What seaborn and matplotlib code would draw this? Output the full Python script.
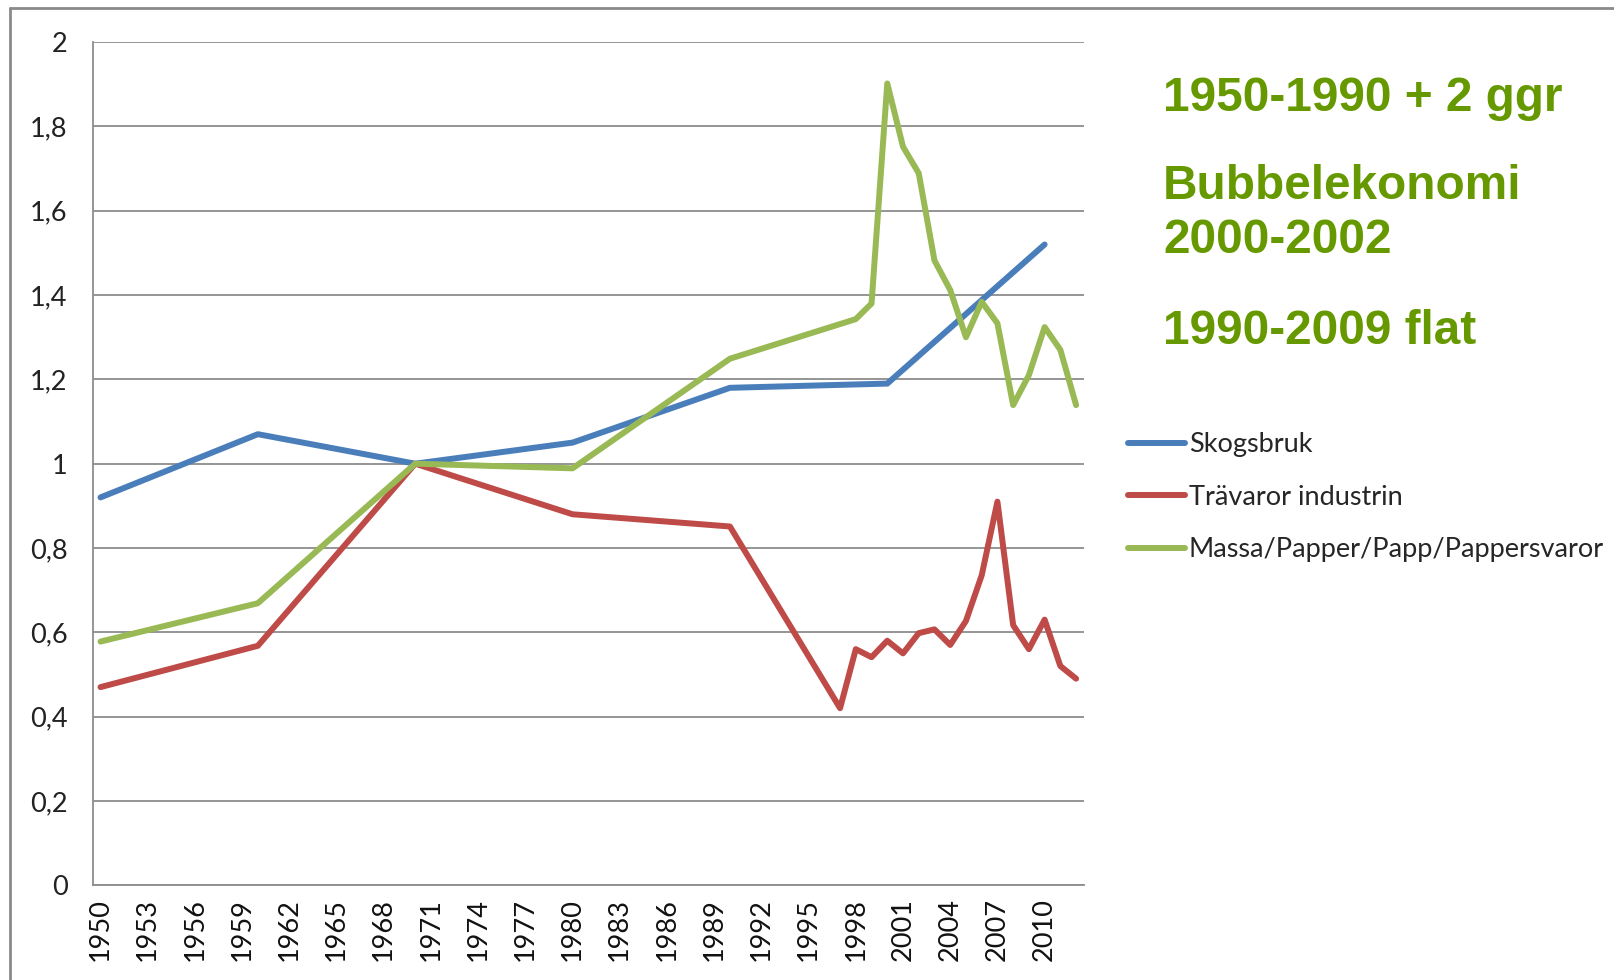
import matplotlib
matplotlib.use("Agg")
import matplotlib.pyplot as plt
from matplotlib.lines import Line2D
import numpy as np
import pandas as pd
import seaborn as sns

# data (index, 1970 = 1)
skog_years = [1950, 1960, 1970, 1980, 1990, 2000, 2010]
skog_vals = [0.92, 1.07, 1.00, 1.05, 1.18, 1.19, 1.52]

tra_years = [1950, 1960, 1970, 1980, 1990, 1997, 1998, 1999, 2000, 2001, 2002,
             2003, 2004, 2005, 2006, 2007, 2008, 2009, 2010, 2011, 2012]
tra_vals = [0.47, 0.568, 1.00, 0.88, 0.851, 0.42, 0.56, 0.541, 0.58, 0.55, 0.598,
            0.607, 0.57, 0.627, 0.735, 0.91, 0.617, 0.56, 0.63, 0.52, 0.49]

massa_years = [1950, 1960, 1970, 1980, 1990, 1998, 1999, 2000, 2001, 2002,
               2003, 2004, 2005, 2006, 2007, 2008, 2009, 2010, 2011, 2012]
massa_vals = [0.578, 0.669, 1.00, 0.989, 1.249, 1.343, 1.38, 1.902, 1.752, 1.689,
              1.482, 1.412, 1.30, 1.384, 1.333, 1.139, 1.21, 1.324, 1.27, 1.139]

series_names = ["Skogsbruk", "Trävaror industrin", "Massa/Papper/Papp/Pappersvaror"]
series_colors = ["#4A7EBB", "#BE4B48", "#98B954"]

ytick_vals = [0, 0.2, 0.4, 0.6, 0.8, 1.0, 1.2, 1.4, 1.6, 1.8, 2.0]
ytick_labels = ["0", "0,2", "0,4", "0,6", "0,8", "1", "1,2", "1,4", "1,6", "1,8", "2"]
xtick_years = list(range(1950, 2011, 3))

notes = ["1950-1990 + 2 ggr", "Bubbelekonomi\n2000-2002", "1990-2009 flat"]

df = pd.concat([
    pd.DataFrame({"year": skog_years, "value": skog_vals, "series": series_names[0]}),
    pd.DataFrame({"year": tra_years, "value": tra_vals, "series": series_names[1]}),
    pd.DataFrame({"year": massa_years, "value": massa_vals, "series": series_names[2]}),
])

sns.set_style("white")
plt.rcParams["font.family"] = ["Lato", "DejaVu Sans"]

fig = plt.figure(figsize=(16.14, 9.8), dpi=100)
ax = fig.add_axes([0.0574, 0.0967, 0.6142, 0.8603])

grid_c = "#8C8C8C"
lw = 4.3
sns.lineplot(data=df, x="year", y="value", hue="series", hue_order=series_names,
             palette=dict(zip(series_names, series_colors)), linewidth=lw,
             ax=ax, sort=True, estimator=None)

ax.set_xlim(1949.5, 2012.5)
ax.set_ylim(0, 2)
ax.set_xlabel("")
ax.set_ylabel("")

ax.set_yticks(ytick_vals)
ax.set_yticklabels(ytick_labels, fontsize=19.5, color="#222222")
ax.yaxis.grid(True, color=grid_c, linewidth=1.3)
ax.set_axisbelow(True)

ax.set_xticks(xtick_years)
ax.set_xticklabels([str(y) for y in xtick_years], rotation=90, fontsize=19.5, color="#111111")
ax.set_xticks(np.arange(1949.5, 2013, 1.0), minor=True)
ax.tick_params(axis="x", which="major", length=0, pad=9)
ax.tick_params(axis="x", which="minor", length=8, width=1.3, color=grid_c, direction="out")
ax.tick_params(axis="y", which="major", length=10, width=1.3, color=grid_c, direction="out", pad=8)

for s in ["top", "right"]:
    ax.spines[s].set_visible(False)
for s in ["left", "bottom"]:
    ax.spines[s].set_color(grid_c)
    ax.spines[s].set_linewidth(1.3)

leg = ax.legend(loc="upper left", bbox_to_anchor=(0.699, 0.559), bbox_transform=fig.transFigure,
                frameon=False, fontsize=19.5, handlelength=2.1, handletextpad=0.13,
                labelspacing=1.02, borderpad=0, borderaxespad=0)
for h in leg.get_lines():
    h.set_linewidth(lw)

note_c = "#669900"
fig.text(0.7205, 0.899, notes[0], fontsize=34.4, fontweight="bold", color=note_c,
         family="Liberation Sans", va="center", ha="left")
fig.text(0.7205, 0.782, notes[1], fontsize=34.4, fontweight="bold", color=note_c,
         family="Liberation Sans", va="center", ha="left", linespacing=1.25)
fig.text(0.7205, 0.662, notes[2], fontsize=34.4, fontweight="bold", color=note_c,
         family="Liberation Sans", va="center", ha="left")

# slide frame around the chart
fig.add_artist(Line2D([0.0064, 0.0064], [-0.01, 0.9917], transform=fig.transFigure,
                      color="#8A8A8A", linewidth=2))
fig.add_artist(Line2D([0.0064, 1.01], [0.9917, 0.9917], transform=fig.transFigure,
                      color="#8A8A8A", linewidth=2))

fig.savefig("out.png", dpi=100)
